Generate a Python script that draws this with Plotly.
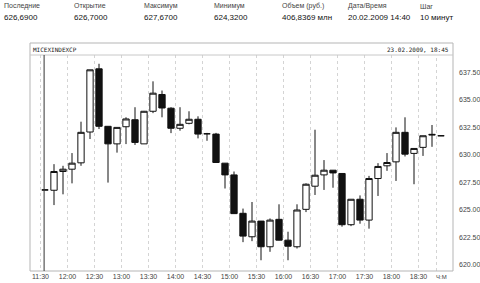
import plotly.graph_objects as go

# ---------------- data ----------------
day = "2009-02-20"
times = ["11:30", "11:40", "11:50",
         "12:00", "12:10", "12:20", "12:30", "12:40", "12:50",
         "13:00", "13:10", "13:20", "13:30", "13:40", "13:50",
         "14:00", "14:10", "14:20", "14:30", "14:40", "14:50",
         "15:00", "15:10", "15:20", "15:30", "15:40", "15:50",
         "16:00", "16:10", "16:20", "16:30", "16:40", "16:50",
         "17:00", "17:10", "17:20", "17:30", "17:40", "17:50",
         "18:00", "18:10", "18:20", "18:30", "18:40", "18:50"]

open_ = [626.80, 626.77, 628.48, 628.69, 629.27, 632.08, 637.84, 632.60, 631.00,
         632.56, 633.20, 631.00, 633.97, 635.50, 634.25, 632.42, 632.87, 633.24,
         631.92, 631.89, 629.24, 628.17, 624.67, 622.53, 623.96, 621.62, 624.12,
         622.22, 621.62, 625.03, 627.14, 628.17, 628.60, 628.30, 623.63, 625.95,
         624.05, 627.84, 629.00, 629.36, 632.05, 630.13, 630.68, 631.80, 631.74]
high = [626.80, 629.15, 629.00, 630.16, 633.02, 637.75, 638.30, 632.60, 632.50,
        633.42, 634.34, 634.00, 636.70, 635.86, 634.34, 634.34, 633.97, 633.51,
        632.00, 632.00, 629.24, 628.48, 625.10, 625.70, 623.96, 624.20, 625.49,
        622.99, 625.49, 627.40, 632.29, 629.52, 628.60, 628.30, 625.95, 626.30,
        628.08, 629.24, 630.16, 632.50, 633.42, 630.58, 631.74, 632.72, 631.74]
low = [626.80, 625.42, 626.40, 627.40, 629.00, 631.44, 632.35, 627.47, 630.20,
       630.98, 630.90, 631.00, 633.80, 633.42, 631.98, 632.20, 632.78, 631.50,
       631.28, 629.30, 626.93, 624.64, 622.04, 622.13, 620.39, 621.16, 622.20,
       620.39, 621.46, 624.78, 626.34, 626.80, 627.00, 623.45, 623.50, 623.72,
       623.27, 626.25, 628.54, 627.62, 629.85, 627.32, 629.90, 630.73, 631.74]
close = [626.80, 628.48, 628.69, 629.24, 632.05, 637.75, 632.60, 631.00, 632.50,
         633.27, 631.13, 633.97, 635.62, 634.27, 632.42, 632.78, 633.24, 631.89,
         631.92, 629.30, 628.17, 624.64, 622.59, 623.96, 621.62, 624.05, 622.22,
         621.67, 624.97, 627.32, 628.14, 628.60, 628.35, 623.63, 625.95, 624.05,
         627.84, 628.94, 629.30, 632.05, 630.06, 630.58, 631.74, 631.86, 631.74]

x_ticks = ["11:30", "12:00", "12:30", "13:00", "13:30", "14:00", "14:30", "15:00",
           "15:30", "16:00", "16:30", "17:00", "17:30", "18:00", "18:30"]
y_ticks = [620.0, 622.5, 625.0, 627.5, 630.0, 632.5, 635.0, 637.5]

header_labels = ["Последние", "Открытие", "Максимум", "Минимум",
                 "Объем (руб.)", "Дата/Время", "Шаг"]
header_values = ["626,6900", "626,7000", "627,6700", "624,3200",
                 "406,8369 млн", "20.02.2009 14:40", "10 минут"]

chart_title = "MICEXINDEXCP"
chart_date = "23.02.2009, 18:45"
cursor_time = "11:34"
extra_grid_time = "18:50"
axis_unit = "Ч:М"

# ---------------- layout geometry ----------------
W, H = 480, 283
L, R, T, B = 30, 27, 55, 12
PW, PH = W - L - R, H - T - B


def pxx(x):
    return (x - L) / PW


def pxy(y):
    return (H - B - y) / PH


FONT = "Liberation Sans, Arial, sans-serif"
MONO = "DejaVu Sans Mono, monospace"

xs = [f"{day} {t}" for t in times]

fig = go.Figure()
fig.add_trace(go.Candlestick(
    x=xs, open=open_, high=high, low=low, close=close,
    xperiod=600000, xperiodalignment="middle",
    increasing=dict(line=dict(color="#111111", width=1), fillcolor="#ffffff"),
    decreasing=dict(line=dict(color="#111111", width=1), fillcolor="#111111"),
    whiskerwidth=0, hoverinfo="skip",
))

shapes = [
    # outer frame (incl. title bar)
    dict(type="rect", xref="paper", yref="paper", x0=0, x1=1, y0=0, y1=pxy(43),
         line=dict(color="#b5b5b5", width=1), layer="above"),
    # title bar separator
    dict(type="line", xref="paper", yref="paper", x0=0, x1=1, y0=1, y1=1,
         line=dict(color="#c8c8c8", width=1), layer="above"),
    # extra faint grid line
    dict(type="line", xref="x", yref="paper",
         x0=f"{day} {extra_grid_time}", x1=f"{day} {extra_grid_time}", y0=0, y1=1,
         line=dict(color="#d4d4d4", width=1, dash="dot"), layer="below"),
    # cursor line
    dict(type="line", xref="x", yref="paper",
         x0=f"{day} {cursor_time}", x1=f"{day} {cursor_time}", y0=0, y1=1,
         line=dict(color="#333333", width=1), layer="above"),
]

annotations = [
    dict(text=chart_title, xref="paper", yref="paper", x=pxx(31), y=pxy(49),
         xanchor="left", yanchor="middle", showarrow=False,
         font=dict(family=MONO, size=6, color="#222222")),
    dict(text=chart_date, xref="paper", yref="paper", x=pxx(451), y=pxy(49),
         xanchor="right", yanchor="middle", showarrow=False,
         font=dict(family=MONO, size=6, color="#222222")),
    dict(text=axis_unit, xref="paper", yref="paper", x=pxx(441), y=pxy(282),
         xanchor="center", yanchor="bottom", showarrow=False,
         font=dict(family=FONT, size=6, color="#444444")),
]

col_x = [2, 72, 142, 212, 280, 346, 418]
for cx, lab, val in zip(col_x, header_labels, header_values):
    annotations.append(dict(text=lab, xref="paper", yref="paper", x=pxx(cx), y=pxy(6),
                            xanchor="left", yanchor="middle", showarrow=False,
                            font=dict(family=FONT, size=7, color="#444444")))
    annotations.append(dict(text=val, xref="paper", yref="paper", x=pxx(cx), y=pxy(17),
                            xanchor="left", yanchor="middle", showarrow=False,
                            font=dict(family=FONT, size=8, color="#111111")))

fig.update_layout(
    width=W, height=H,
    margin=dict(l=L, r=R, t=T, b=B, pad=0, autoexpand=False),
    paper_bgcolor="white", plot_bgcolor="white",
    showlegend=False,
    boxgap=0.3, boxgroupgap=0,
    shapes=shapes, annotations=annotations,
    xaxis=dict(
        type="date", automargin=False,
        range=[f"{day} 11:18:20", f"{day} 19:08:20"],
        tickvals=[f"{day} {t}" for t in x_ticks], ticktext=x_ticks,
        showgrid=True, gridcolor="#d4d4d4", griddash="dot", gridwidth=1,
        zeroline=False, showline=False, ticks="",
        rangeslider=dict(visible=False),
        tickfont=dict(family=FONT, size=7, color="#444444"),
    ),
    yaxis=dict(
        side="right", automargin=False,
        range=[619.41, 639.10],
        tickvals=y_ticks, ticktext=[f"{v:.2f}" for v in y_ticks],
        showgrid=False, zeroline=False, showline=False, ticks="",
        ticklabelstandoff=5,
        tickfont=dict(family=FONT, size=7, color="#444444"),
    ),
)

fig.write_html("out.html")
